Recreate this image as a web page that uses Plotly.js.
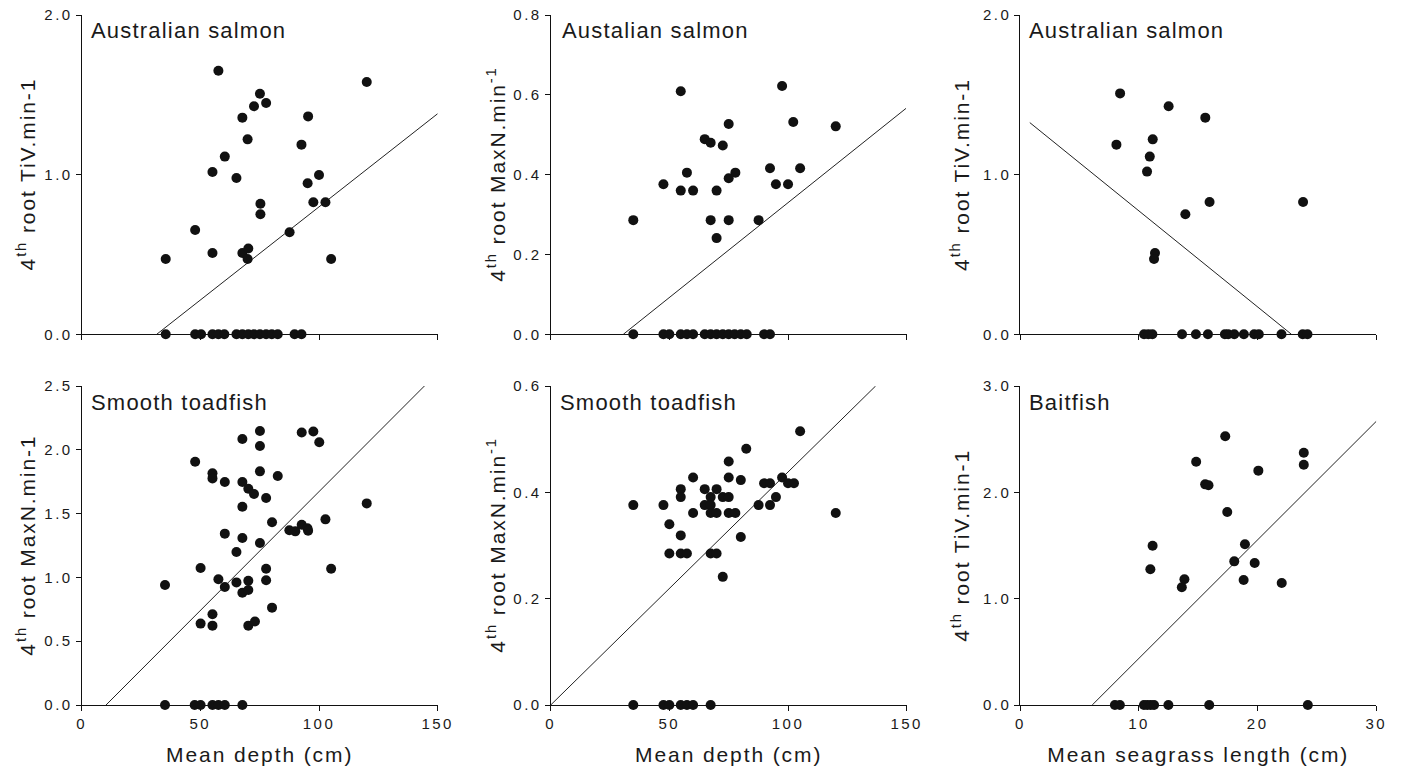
<!DOCTYPE html>
<html>
<head>
<meta charset="utf-8">
<script src="https://cdn.plot.ly/plotly-3.0.1.min.js"></script>
<style>
  html, body { margin: 0; padding: 0; background: #fff; }
  #chart { width: 1402px; height: 771px; }
  .xaxislayer-above text, .yaxislayer-above text { letter-spacing: 2.5px !important; }
  .annotation-text { letter-spacing: 1.2px !important; }
  .ytitle-ann .annotation-text { letter-spacing: 1.9px !important; }
  .g-xtitle text, .g-x2title text, .g-x3title text, .g-x4title text,
  .g-x5title text, .g-x6title text { letter-spacing: 1.9px !important; }
</style>
</head>
<body>
<div id="chart"></div>
<script>
// ---------- Data ----------
// Panel 1: Australian salmon, 4th root TiV.min-1 vs mean depth
const salmonTivDepthX = [35.4, 57.6, 120.1, 75.1, 77.7, 72.6, 67.7, 95.4, 69.9, 92.6, 60.3, 55.1, 65.2, 100, 95.2, 75.3, 97.6, 102.7, 75.3, 47.8, 87.6, 55.1, 67.7, 70.2, 69.9, 105.1,
  35.4, 47.8, 50.3, 55.1, 57.6, 60.1, 65.2, 67.7, 70.2, 72.6, 75.1, 77.7, 80.1, 82.6, 89.7, 92.6];
const salmonTivDepthY = [0.472, 1.651, 1.580, 1.507, 1.449, 1.428, 1.357, 1.365, 1.221, 1.188, 1.113, 1.017, 0.979, 0.998, 0.946, 0.818, 0.827, 0.827, 0.752, 0.653, 0.639, 0.509, 0.509, 0.537, 0.472, 0.472,
  0, 0, 0, 0, 0, 0, 0, 0, 0, 0, 0, 0, 0, 0, 0, 0];
const salmonTivDepthFitX = [31.6, 150];
const salmonTivDepthFitY = [0, 1.382];

// Panel 2: Australian salmon, 4th root MaxN.min-1 vs mean depth
const salmonMaxnDepthX = [34.8, 54.8, 97.5, 75.0, 102.2, 120.1, 64.9, 67.4, 72.5, 57.4, 77.8, 75.0, 92.4, 105.1, 47.5, 94.9, 100, 54.8, 60.0, 69.9, 67.4, 75.0, 87.6, 69.9,
  34.8, 47.5, 50.0, 54.8, 57.4, 60.0, 64.9, 67.4, 69.9, 72.5, 75.0, 77.5, 80.1, 82.6, 89.9, 92.4];
const salmonMaxnDepthY = [0.286, 0.609, 0.622, 0.527, 0.532, 0.521, 0.489, 0.480, 0.473, 0.405, 0.405, 0.391, 0.416, 0.416, 0.376, 0.376, 0.376, 0.360, 0.360, 0.360, 0.286, 0.286, 0.286, 0.241,
  0, 0, 0, 0, 0, 0, 0, 0, 0, 0, 0, 0, 0, 0, 0, 0];
const salmonMaxnDepthFitX = [30.6, 149.7];
const salmonMaxnDepthFitY = [0, 0.566];

// Panel 3: Australian salmon, 4th root TiV.min-1 vs mean seagrass length
const salmonTivSeagrassX = [8.41, 8.10, 12.50, 15.59, 11.16, 10.91, 10.68, 15.95, 23.83, 13.91, 11.35, 11.27,
  10.43, 10.79, 11.13, 13.63, 14.80, 15.81, 17.24, 17.52, 18.03, 18.84, 19.71, 20.10, 22.01, 23.80, 24.20];
const salmonTivSeagrassY = [1.509, 1.188, 1.428, 1.357, 1.221, 1.113, 1.019, 0.829, 0.829, 0.752, 0.509, 0.472,
  0, 0, 0, 0, 0, 0, 0, 0, 0, 0, 0, 0, 0, 0, 0];
const salmonTivSeagrassFitX = [0.8, 22.85];
const salmonTivSeagrassFitY = [1.326, 0];

// Panel 4: Smooth toadfish, 4th root MaxN.min-1 vs mean depth
const toadMaxnDepthX = [35.1, 47.8, 55.1, 55.1, 60.3, 50.1, 57.6, 60.3, 65.2, 55.1, 55.1, 50.1, 60.3, 65.2, 67.7, 67.7, 67.7, 67.7, 67.7, 70.2, 70.2, 70.2, 73.0, 70.2, 72.6,
  75.1, 75.1, 75.1, 75.1, 77.7, 77.7, 77.7, 80.2, 80.2, 82.6, 87.5, 90.0, 92.7, 95.1, 95.4, 92.7, 97.6, 100.1, 102.7, 105.1, 120.1,
  35.1, 47.6, 50.1, 55.1, 57.6, 60.3, 67.7];
const toadMaxnDepthY = [0.940, 1.907, 1.816, 1.776, 1.748, 1.074, 0.985, 0.925, 0.961, 0.711, 0.622, 0.638, 1.343, 1.199, 2.085, 1.748, 1.554, 1.309, 0.880, 0.901, 0.974, 0.622, 0.655, 1.695, 1.654,
  2.147, 2.030, 1.831, 1.270, 1.622, 1.068, 0.977, 1.432, 0.763, 1.795, 1.369, 1.361, 1.413, 1.385, 1.365, 2.136, 2.144, 2.059, 1.455, 1.068, 1.580,
  0, 0, 0, 0, 0, 0, 0];
const toadMaxnDepthFitX = [10.25, 144.4];
const toadMaxnDepthFitY = [0, 2.5];

// Panel 5: Smooth toadfish, 4th root MaxN.min-1 vs mean depth
const toadMaxn2DepthX = [34.8, 47.5, 50.0, 54.8, 54.8, 54.8, 54.8, 57.4, 50.0, 60.0, 60.0, 64.9, 64.9, 67.4, 67.4, 67.4, 67.4, 69.9, 69.9, 69.9, 72.5, 72.5,
  75.0, 75.0, 75.0, 75.0, 77.8, 80.1, 80.1, 82.4, 87.6, 89.9, 92.4, 92.4, 94.9, 97.5, 100, 102.5, 105.1, 120.1,
  34.8, 47.5, 50.0, 54.8, 57.4, 60.0, 67.4];
const toadMaxn2DepthY = [0.376, 0.376, 0.340, 0.406, 0.391, 0.319, 0.285, 0.285, 0.285, 0.428, 0.361, 0.406, 0.376, 0.391, 0.376, 0.361, 0.285, 0.406, 0.361, 0.285, 0.391, 0.241,
  0.458, 0.428, 0.391, 0.361, 0.361, 0.423, 0.316, 0.482, 0.376, 0.417, 0.417, 0.376, 0.391, 0.428, 0.417, 0.417, 0.515, 0.361,
  0, 0, 0, 0, 0, 0, 0];
const toadMaxn2DepthFitX = [0, 136.9];
const toadMaxn2DepthFitY = [0, 0.6];

// Panel 6: Baitfish, 4th root TiV.min-1 vs mean seagrass length
const baitTivSeagrassX = [17.27, 14.82, 23.89, 23.89, 20.06, 15.58, 15.86, 17.44, 11.15, 18.93, 10.96, 18.03, 19.75, 13.83, 13.61, 18.82, 22.03,
  7.97, 8.39, 10.42, 10.70, 10.99, 11.27, 12.48, 15.92, 24.23];
const baitTivSeagrassY = [2.527, 2.288, 2.373, 2.260, 2.204, 2.075, 2.066, 1.815, 1.498, 1.511, 1.276, 1.351, 1.335, 1.182, 1.107, 1.176, 1.147,
  0, 0, 0, 0, 0, 0, 0, 0, 0];
const baitTivSeagrassFitX = [6.06, 30];
const baitTivSeagrassFitY = [0, 2.668];

// Titles and labels
const panelLabels = ['Australian salmon', 'Austalian salmon', 'Australian salmon', 'Smooth toadfish', 'Smooth toadfish', 'Baitfish'];
const yTitles = ['4<sup>th</sup> root TiV.min-1', '4<sup>th</sup> root MaxN.min<sup>-1</sup>', '4<sup>th</sup> root TiV.min-1',
                 '4<sup>th</sup> root MaxN.min-1', '4<sup>th</sup> root MaxN.min<sup>-1</sup>', '4<sup>th</sup> root TiV.min-1'];
const xTitles = [null, null, null, 'Mean depth (cm)', 'Mean depth (cm)', 'Mean seagrass length (cm)'];
const yRanges = [[0, 2], [0, 0.8], [0, 2], [0, 2.5], [0, 0.6], [0, 3]];
const yDticks = [1, 0.2, 1, 0.5, 0.2, 1];
const xRanges = [[0, 150], [0, 150], [0, 30], [0, 150], [0, 150], [0, 30]];
const xDticks = [50, 50, 10, 50, 50, 10];

// ---------- Figure ----------
const W = 1402, H = 771;
const colPix = [[81.7, 437.7], [550.7, 906.7], [1020.3, 1376.3]];
const rowPix = [[15, 334.3], [386, 705]];
const yTitleCenterPix = [25.5, 495.5, 960];

const panels = [
  [salmonTivDepthX, salmonTivDepthY, salmonTivDepthFitX, salmonTivDepthFitY],
  [salmonMaxnDepthX, salmonMaxnDepthY, salmonMaxnDepthFitX, salmonMaxnDepthFitY],
  [salmonTivSeagrassX, salmonTivSeagrassY, salmonTivSeagrassFitX, salmonTivSeagrassFitY],
  [toadMaxnDepthX, toadMaxnDepthY, toadMaxnDepthFitX, toadMaxnDepthFitY],
  [toadMaxn2DepthX, toadMaxn2DepthY, toadMaxn2DepthFitX, toadMaxn2DepthFitY],
  [baitTivSeagrassX, baitTivSeagrassY, baitTivSeagrassFitX, baitTivSeagrassFitY]
];

const ink = '#1a1a1a';
const fontFam = 'Liberation Sans, Arial, Helvetica, sans-serif';
const traces = [];
const layout = {
  width: W, height: H,
  margin: {l: 0, r: 0, t: 0, b: 0},
  paper_bgcolor: '#ffffff', plot_bgcolor: '#ffffff',
  showlegend: false,
  font: {family: fontFam, color: ink},
  annotations: []
};

panels.forEach((p, i) => {
  const n = i + 1;
  const xa = n === 1 ? 'x' : 'x' + n;
  const ya = n === 1 ? 'y' : 'y' + n;
  const col = i % 3, row = Math.floor(i / 3);
  traces.push({
    x: p[2], y: p[3], xaxis: xa, yaxis: ya, type: 'scatter', mode: 'lines',
    line: {color: '#222', width: 1}, hoverinfo: 'skip', cliponaxis: false
  });
  traces.push({
    x: p[0], y: p[1], xaxis: xa, yaxis: ya, type: 'scatter', mode: 'markers',
    marker: {color: '#111', size: 10, line: {width: 0}}, cliponaxis: false
  });
  const xd = [colPix[col][0] / W, colPix[col][1] / W];
  const yd = [1 - rowPix[row][1] / H, 1 - rowPix[row][0] / H];
  const xkey = n === 1 ? 'xaxis' : 'xaxis' + n;
  const ykey = n === 1 ? 'yaxis' : 'yaxis' + n;
  const xaxisObj = {
    domain: xd, anchor: ya, range: xRanges[i], dtick: xDticks[i], tick0: 0,
    showgrid: false, zeroline: false, showline: true, linecolor: '#111', linewidth: 1,
    ticks: 'outside', ticklen: 5, tickwidth: 1, tickcolor: '#111',
    showticklabels: row === 1,
    tickfont: {size: 15, color: ink, family: fontFam},
    fixedrange: true
  };
  if (xTitles[i]) {
    xaxisObj.title = {text: xTitles[i], font: {size: 21, color: ink, family: fontFam}, standoff: 16};
  }
  layout[xkey] = xaxisObj;
  layout[ykey] = {
    domain: yd, anchor: xa, range: yRanges[i], dtick: yDticks[i], tick0: 0,
    tickformat: '.1f',
    showgrid: false, zeroline: false, showline: true, linecolor: '#111', linewidth: 1,
    ticks: 'outside', ticklen: 5, tickwidth: 1, tickcolor: '#111',
    tickfont: {size: 15, color: ink, family: fontFam},
    fixedrange: true
  };
  // panel label
  layout.annotations.push({
    text: panelLabels[i], xref: 'paper', yref: 'paper',
    x: (colPix[col][0] + (i === 1 ? 9 : 7)) / W, y: 1 - (rowPix[row][0] + 16) / H,
    xanchor: 'left', yanchor: 'middle', showarrow: false,
    font: {size: 22, color: ink, family: fontFam}
  });
  // y-axis title (rotated text beside the axis)
  layout.annotations.push({
    text: yTitles[i], xref: 'paper', yref: 'paper', textangle: -90,
    x: yTitleCenterPix[col] / W, y: 1 - (rowPix[row][0] + rowPix[row][1]) / 2 / H,
    xanchor: 'center', yanchor: 'middle', showarrow: false,
    font: {size: 21, color: ink, family: fontFam}
  });
});

Plotly.newPlot('chart', traces, layout, {displayModeBar: false, staticPlot: true}).then(() => {
  document.querySelectorAll('.annotation').forEach(g => {
    const t = g.querySelector('.annotation-text');
    if (t && /root/.test(t.textContent)) g.classList.add('ytitle-ann');
  });
  document.querySelectorAll('.xaxislayer-above text, .yaxislayer-above text').forEach(t => {
    t.style.letterSpacing = '2.5px';
  });
  document.querySelectorAll('#chart svg text').forEach(t => {
    if (!t.textContent || !t.textContent.trim()) t.remove();
  });
});
</script>
</body>
</html>
